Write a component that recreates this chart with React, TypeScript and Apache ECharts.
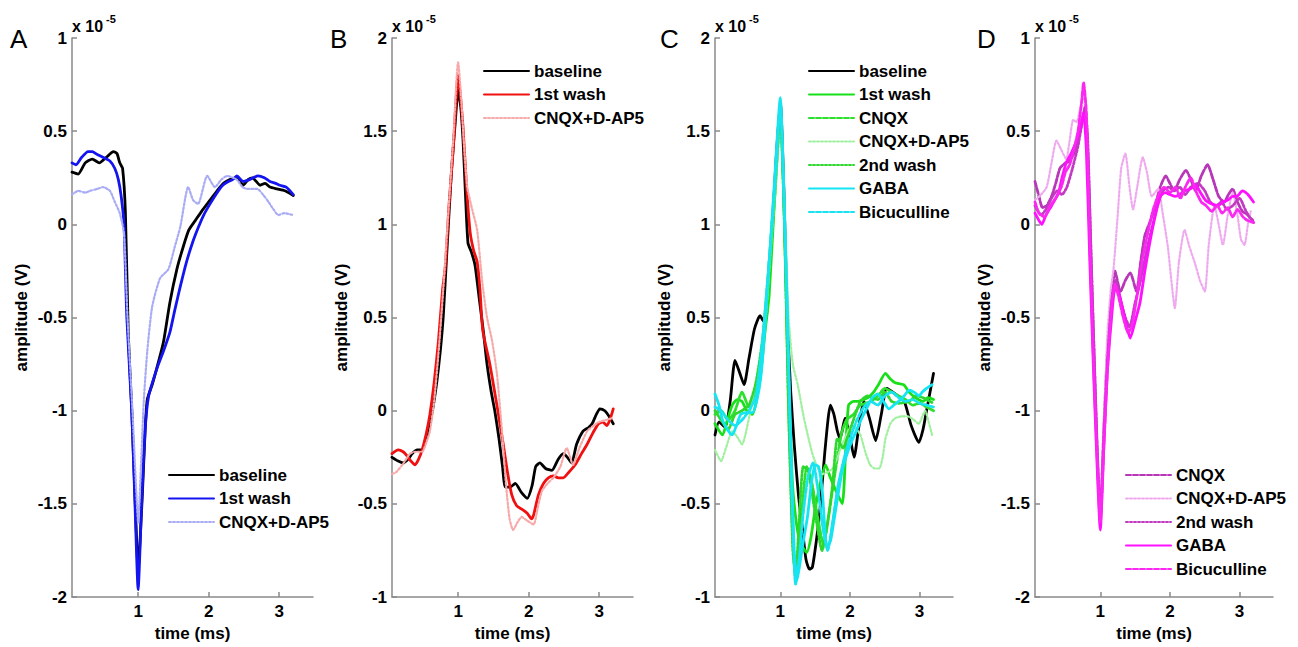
import React, { useEffect, useRef } from 'react';
import * as echarts from 'echarts';

// ---------- DATA (time in ms, amplitude in units of 1e-5 V) ----------
const xTicks = [1, 2, 3];

const A_baseline = [[0.0625,0.28],[0.15,0.27],[0.25,0.33],[0.35,0.35],[0.45,0.33],[0.55,0.36],[0.65,0.39],[0.7,0.38],[0.74,0.33],[0.78,0.3],[0.82,0.06],[0.86,-0.58],[0.91,-1.0],[0.96,-1.5],[1.0,-1.85],[1.06,-1.45],[1.1,-1.1],[1.13,-0.94],[1.2,-0.86],[1.28,-0.75],[1.36,-0.63],[1.45,-0.42],[1.55,-0.24],[1.64,-0.12],[1.72,-0.03],[1.81,0.02],[1.9,0.07],[2.02,0.13],[2.12,0.18],[2.21,0.22],[2.3,0.24],[2.4,0.25],[2.49,0.21],[2.56,0.24],[2.62,0.25],[2.73,0.21],[2.8,0.22],[2.87,0.2],[2.97,0.19],[3.08,0.18],[3.2,0.155]];
const A_wash1 = [[0.0625,0.33],[0.12,0.32],[0.2,0.36],[0.29,0.39],[0.35,0.39],[0.42,0.375],[0.5,0.36],[0.6,0.34],[0.67,0.3],[0.72,0.24],[0.76,0.15],[0.8,0.0],[0.84,-0.5],[0.91,-1.0],[0.96,-1.55],[1.0,-1.96],[1.05,-1.5],[1.1,-1.1],[1.15,-0.92],[1.27,-0.77],[1.36,-0.68],[1.45,-0.58],[1.52,-0.46],[1.6,-0.33],[1.68,-0.21],[1.77,-0.1],[1.85,-0.02],[1.93,0.05],[2.02,0.11],[2.12,0.17],[2.2,0.21],[2.28,0.23],[2.34,0.24],[2.4,0.26],[2.49,0.23],[2.58,0.24],[2.7,0.26],[2.79,0.25],[2.87,0.23],[2.95,0.22],[3.01,0.21],[3.1,0.2],[3.2,0.16]];
const A_cnqxDap5 = [[0.0625,0.16],[0.15,0.18],[0.25,0.17],[0.32,0.18],[0.42,0.19],[0.5,0.2],[0.6,0.18],[0.67,0.12],[0.74,0.06],[0.8,-0.05],[0.85,-0.5],[0.92,-1.0],[0.97,-1.4],[1.0,-1.6],[1.04,-1.3],[1.08,-0.95],[1.13,-0.68],[1.2,-0.44],[1.31,-0.29],[1.43,-0.24],[1.52,-0.12],[1.6,-0.01],[1.71,0.2],[1.78,0.13],[1.85,0.11],[1.98,0.26],[2.09,0.2],[2.18,0.24],[2.26,0.26],[2.4,0.24],[2.48,0.2],[2.55,0.19],[2.69,0.19],[2.77,0.16],[2.85,0.12],[2.92,0.08],[2.99,0.05],[3.07,0.06],[3.2,0.05]];

const B_baseline = [[0.0625,-0.25],[0.15,-0.27],[0.22,-0.28],[0.29,-0.26],[0.35,-0.23],[0.42,-0.21],[0.49,-0.21],[0.55,-0.15],[0.6,-0.07],[0.65,0.03],[0.7,0.16],[0.75,0.33],[0.79,0.51],[0.84,0.85],[0.91,1.31],[0.96,1.55],[1.0,1.72],[1.04,1.62],[1.07,1.45],[1.1,1.2],[1.14,0.9],[1.19,0.85],[1.24,0.78],[1.3,0.6],[1.36,0.42],[1.41,0.25],[1.47,0.1],[1.52,0.0],[1.58,-0.15],[1.63,-0.3],[1.67,-0.41],[1.74,-0.41],[1.81,-0.39],[1.9,-0.44],[1.98,-0.47],[2.05,-0.4],[2.1,-0.3],[2.16,-0.28],[2.24,-0.31],[2.33,-0.32],[2.42,-0.26],[2.49,-0.23],[2.55,-0.25],[2.61,-0.28],[2.68,-0.18],[2.77,-0.11],[2.85,-0.09],[2.9,-0.07],[2.96,-0.02],[3.01,0.01],[3.08,0.0],[3.14,-0.03],[3.2,-0.07]];
const B_wash1 = [[0.0625,-0.23],[0.15,-0.21],[0.22,-0.22],[0.27,-0.24],[0.33,-0.27],[0.39,-0.29],[0.44,-0.26],[0.49,-0.21],[0.55,-0.12],[0.6,-0.02],[0.66,0.15],[0.72,0.37],[0.78,0.65],[0.82,0.78],[0.87,1.1],[0.93,1.4],[1.0,1.8],[1.03,1.7],[1.07,1.52],[1.12,1.2],[1.17,0.96],[1.22,0.86],[1.27,0.8],[1.31,0.65],[1.35,0.43],[1.45,0.25],[1.55,0.03],[1.64,-0.18],[1.7,-0.33],[1.76,-0.45],[1.83,-0.51],[1.91,-0.53],[1.98,-0.55],[2.04,-0.58],[2.07,-0.56],[2.14,-0.45],[2.21,-0.39],[2.28,-0.36],[2.35,-0.35],[2.42,-0.36],[2.49,-0.36],[2.57,-0.33],[2.66,-0.29],[2.75,-0.23],[2.83,-0.18],[2.91,-0.12],[2.99,-0.07],[3.05,-0.06],[3.11,-0.08],[3.16,-0.04],[3.2,0.01]];
const B_cnqxDap5 = [[0.0625,-0.34],[0.12,-0.33],[0.21,-0.29],[0.32,-0.23],[0.4,-0.22],[0.49,-0.22],[0.55,-0.17],[0.6,-0.11],[0.66,0.05],[0.72,0.3],[0.78,0.6],[0.85,1.0],[0.93,1.45],[1.0,1.87],[1.04,1.7],[1.08,1.45],[1.13,1.2],[1.2,1.08],[1.27,0.97],[1.34,0.7],[1.41,0.5],[1.48,0.38],[1.55,0.2],[1.62,-0.1],[1.68,-0.4],[1.73,-0.58],[1.78,-0.64],[1.84,-0.6],[1.9,-0.57],[1.98,-0.59],[2.07,-0.61],[2.13,-0.52],[2.19,-0.43],[2.27,-0.39],[2.35,-0.36],[2.45,-0.3],[2.54,-0.2],[2.63,-0.29],[2.72,-0.2],[2.83,-0.11],[2.92,-0.08],[3.0,-0.06],[3.1,-0.05],[3.18,-0.04]];

const C_baseline = [[0.0625,-0.13],[0.12,-0.06],[0.21,-0.09],[0.28,0.05],[0.35,0.27],[0.42,0.2],[0.48,0.14],[0.55,0.28],[0.63,0.44],[0.71,0.51],[0.76,0.48],[0.8,0.5],[0.88,0.95],[0.94,1.35],[1.0,1.66],[1.05,1.2],[1.1,0.5],[1.15,0.1],[1.2,-0.18],[1.26,-0.45],[1.32,-0.64],[1.37,-0.8],[1.42,-0.85],[1.46,-0.84],[1.51,-0.72],[1.57,-0.53],[1.64,-0.22],[1.72,0.03],[1.77,-0.02],[1.82,-0.11],[1.86,-0.15],[1.93,-0.04],[2.0,-0.14],[2.06,-0.25],[2.13,-0.08],[2.2,0.05],[2.28,-0.04],[2.37,-0.16],[2.45,-0.02],[2.53,0.12],[2.65,0.09],[2.78,0.05],[2.88,-0.08],[2.99,-0.17],[3.05,-0.1],[3.1,0.0],[3.2,0.2]];
const C_wash1 = [[0.0625,-0.07],[0.17,-0.13],[0.24,-0.05],[0.31,0.03],[0.38,0.06],[0.45,0.05],[0.52,0.0],[0.6,-0.02],[0.66,0.06],[0.72,0.2],[0.78,0.42],[0.84,0.62],[0.92,1.15],[1.0,1.6],[1.05,1.15],[1.1,0.4],[1.17,-0.36],[1.23,-0.6],[1.29,-0.71],[1.38,-0.76],[1.44,-0.68],[1.5,-0.53],[1.58,-0.38],[1.65,-0.29],[1.72,-0.36],[1.8,-0.43],[1.89,-0.5],[1.94,-0.2],[1.98,0.03],[2.05,0.05],[2.12,0.05],[2.2,0.06],[2.26,0.07],[2.34,0.1],[2.41,0.14],[2.51,0.2],[2.58,0.17],[2.65,0.15],[2.77,0.14],[2.85,0.1],[2.94,0.07],[3.05,0.05],[3.12,0.07],[3.2,0.06]];
const C_cnqx = [[0.0625,-0.02],[0.15,0.0],[0.25,-0.05],[0.35,0.0],[0.45,0.1],[0.55,0.02],[0.65,0.1],[0.75,0.35],[0.85,0.8],[0.93,1.2],[1.0,1.6],[1.06,1.0],[1.12,0.0],[1.18,-0.7],[1.22,-0.9],[1.27,-0.75],[1.33,-0.45],[1.38,-0.3],[1.45,-0.38],[1.55,-0.6],[1.62,-0.72],[1.7,-0.55],[1.8,-0.3],[1.88,-0.12],[1.95,-0.05],[2.05,-0.02],[2.15,0.03],[2.3,0.05],[2.4,0.08],[2.5,0.12],[2.6,0.1],[2.7,0.08],[2.8,0.06],[2.9,0.03],[3.0,0.04],[3.1,0.02],[3.2,0.0]];
const C_cnqxDap5 = [[0.0625,-0.21],[0.15,-0.27],[0.22,-0.2],[0.31,-0.11],[0.38,-0.14],[0.45,-0.18],[0.55,-0.04],[0.62,0.1],[0.7,0.25],[0.78,0.45],[0.86,0.85],[0.93,1.2],[1.0,1.55],[1.06,1.1],[1.12,0.5],[1.18,0.25],[1.25,0.14],[1.34,-0.04],[1.46,-0.23],[1.53,-0.3],[1.6,-0.34],[1.68,-0.33],[1.75,-0.31],[1.82,-0.25],[1.89,-0.18],[1.96,-0.12],[2.02,-0.08],[2.08,-0.09],[2.15,-0.13],[2.22,-0.22],[2.29,-0.29],[2.36,-0.31],[2.42,-0.31],[2.47,-0.25],[2.51,-0.15],[2.58,-0.07],[2.65,-0.04],[2.75,-0.03],[2.83,-0.03],[2.92,-0.05],[2.99,-0.07],[3.04,-0.03],[3.08,0.0],[3.13,-0.06],[3.18,-0.13]];
const C_wash2 = [[0.0625,0.0],[0.15,-0.05],[0.25,-0.1],[0.35,-0.02],[0.45,0.0],[0.55,0.03],[0.65,0.15],[0.75,0.4],[0.85,0.85],[0.93,1.25],[1.0,1.6],[1.06,1.0],[1.12,0.0],[1.18,-0.75],[1.22,-0.88],[1.27,-0.6],[1.33,-0.3],[1.4,-0.32],[1.5,-0.55],[1.6,-0.75],[1.68,-0.6],[1.75,-0.4],[1.82,-0.15],[1.9,-0.2],[1.96,-0.15],[2.05,-0.05],[2.15,0.05],[2.25,0.08],[2.4,0.06],[2.5,0.1],[2.6,0.05],[2.7,0.04],[2.85,0.05],[2.95,0.08],[3.05,0.07],[3.2,0.04]];
const C_gaba = [[0.0625,0.09],[0.12,0.03],[0.17,-0.05],[0.24,-0.1],[0.31,-0.13],[0.37,-0.08],[0.43,-0.02],[0.5,-0.01],[0.6,-0.01],[0.66,0.05],[0.72,0.18],[0.78,0.45],[0.85,0.85],[0.92,1.25],[1.0,1.68],[1.05,1.2],[1.11,0.42],[1.16,-0.3],[1.2,-0.75],[1.24,-0.91],[1.29,-0.8],[1.34,-0.68],[1.39,-0.57],[1.45,-0.38],[1.5,-0.29],[1.55,-0.3],[1.6,-0.42],[1.67,-0.73],[1.72,-0.7],[1.77,-0.59],[1.83,-0.45],[1.89,-0.32],[1.96,-0.23],[2.03,-0.16],[2.1,-0.1],[2.17,-0.04],[2.25,0.02],[2.32,0.07],[2.4,0.09],[2.48,0.05],[2.56,0.01],[2.63,0.03],[2.7,0.05],[2.78,0.08],[2.85,0.11],[2.92,0.1],[2.99,0.08],[3.04,0.1],[3.1,0.12],[3.18,0.14]];
const C_bicuculline = [[0.0625,0.02],[0.15,0.0],[0.25,-0.05],[0.35,-0.08],[0.45,-0.05],[0.55,0.0],[0.65,0.08],[0.75,0.4],[0.85,0.85],[0.93,1.25],[1.0,1.65],[1.06,1.05],[1.12,0.2],[1.17,-0.5],[1.22,-0.93],[1.27,-0.8],[1.33,-0.55],[1.4,-0.35],[1.47,-0.28],[1.55,-0.45],[1.62,-0.65],[1.68,-0.75],[1.75,-0.6],[1.83,-0.4],[1.92,-0.25],[2.0,-0.15],[2.1,-0.05],[2.2,0.02],[2.3,0.05],[2.4,0.03],[2.5,0.08],[2.6,0.1],[2.7,0.07],[2.8,0.05],[2.9,0.06],[3.0,0.04],[3.1,0.03],[3.2,0.02]];

const D_cnqx = [[0.0625,0.23],[0.12,0.15],[0.17,0.09],[0.23,0.1],[0.3,0.15],[0.36,0.22],[0.42,0.3],[0.5,0.33],[0.56,0.34],[0.62,0.38],[0.68,0.45],[0.74,0.55],[0.78,0.62],[0.82,0.4],[0.87,-0.2],[0.92,-0.8],[0.96,-1.25],[1.0,-1.55],[1.05,-1.1],[1.1,-0.7],[1.16,-0.4],[1.21,-0.25],[1.29,-0.36],[1.36,-0.3],[1.43,-0.26],[1.52,-0.36],[1.58,-0.2],[1.64,-0.06],[1.72,0.02],[1.79,0.1],[1.86,0.2],[1.94,0.26],[2.0,0.22],[2.06,0.18],[2.14,0.24],[2.23,0.29],[2.3,0.24],[2.37,0.18],[2.45,0.26],[2.54,0.32],[2.62,0.24],[2.7,0.15],[2.78,0.12],[2.84,0.16],[2.9,0.19],[2.97,0.12],[3.04,0.07],[3.12,0.05],[3.2,0.01]];
const D_cnqxDap5 = [[0.0625,0.13],[0.15,0.16],[0.23,0.2],[0.3,0.33],[0.37,0.45],[0.44,0.4],[0.51,0.35],[0.56,0.45],[0.61,0.56],[0.66,0.55],[0.71,0.62],[0.76,0.7],[0.8,0.5],[0.85,-0.15],[0.9,-0.75],[0.95,-1.2],[1.0,-1.55],[1.05,-1.1],[1.1,-0.6],[1.15,-0.35],[1.19,-0.24],[1.25,0.05],[1.3,0.3],[1.36,0.38],[1.42,0.2],[1.47,0.08],[1.53,0.2],[1.61,0.36],[1.67,0.28],[1.74,0.15],[1.83,0.19],[1.9,0.05],[1.97,-0.12],[2.02,-0.3],[2.07,-0.45],[2.13,-0.2],[2.21,-0.03],[2.28,-0.12],[2.36,-0.21],[2.43,-0.3],[2.5,-0.36],[2.56,-0.1],[2.64,0.1],[2.7,0.0],[2.76,-0.11],[2.83,0.05],[2.9,0.17],[2.97,0.05],[3.02,-0.08],[3.07,-0.11],[3.12,0.0],[3.16,0.07]];
const D_wash2 = [[0.0625,0.1],[0.15,0.05],[0.22,0.08],[0.3,0.14],[0.38,0.18],[0.45,0.16],[0.52,0.2],[0.6,0.3],[0.68,0.42],[0.74,0.55],[0.78,0.63],[0.82,0.45],[0.87,-0.2],[0.92,-0.8],[0.96,-1.25],[1.0,-1.58],[1.05,-1.15],[1.1,-0.75],[1.16,-0.42],[1.22,-0.3],[1.3,-0.42],[1.36,-0.5],[1.42,-0.55],[1.5,-0.42],[1.58,-0.3],[1.66,-0.15],[1.74,-0.02],[1.82,0.1],[1.9,0.18],[1.98,0.2],[2.06,0.18],[2.14,0.2],[2.22,0.16],[2.3,0.2],[2.4,0.22],[2.5,0.18],[2.58,0.12],[2.66,0.1],[2.74,0.12],[2.82,0.08],[2.9,0.1],[3.0,0.14],[3.08,0.08],[3.14,0.04],[3.2,0.02]];
const D_gaba = [[0.0625,0.06],[0.12,0.02],[0.16,0.0],[0.22,0.05],[0.3,0.1],[0.4,0.17],[0.45,0.25],[0.51,0.33],[0.58,0.38],[0.66,0.45],[0.72,0.53],[0.76,0.6],[0.8,0.4],[0.85,-0.2],[0.9,-0.75],[0.95,-1.25],[1.0,-1.64],[1.05,-1.2],[1.1,-0.8],[1.16,-0.51],[1.21,-0.35],[1.26,-0.36],[1.32,-0.45],[1.38,-0.55],[1.43,-0.61],[1.5,-0.52],[1.57,-0.42],[1.64,-0.25],[1.71,-0.1],[1.78,0.03],[1.86,0.15],[1.93,0.17],[2.0,0.16],[2.08,0.15],[2.14,0.16],[2.21,0.18],[2.29,0.19],[2.37,0.21],[2.44,0.17],[2.51,0.13],[2.6,0.11],[2.69,0.1],[2.76,0.12],[2.83,0.13],[2.9,0.15],[2.96,0.15],[3.04,0.18],[3.12,0.16],[3.2,0.12]];
const D_bicuculline = [[0.0625,0.12],[0.12,0.06],[0.2,0.04],[0.28,0.1],[0.36,0.14],[0.44,0.2],[0.5,0.28],[0.56,0.32],[0.62,0.4],[0.68,0.5],[0.73,0.65],[0.76,0.76],[0.8,0.6],[0.85,-0.1],[0.9,-0.7],[0.95,-1.2],[1.0,-1.6],[1.05,-1.2],[1.1,-0.8],[1.16,-0.45],[1.21,-0.32],[1.27,-0.4],[1.33,-0.5],[1.4,-0.58],[1.45,-0.55],[1.52,-0.4],[1.6,-0.2],[1.68,-0.05],[1.76,0.08],[1.85,0.17],[1.92,0.2],[2.0,0.17],[2.08,0.2],[2.15,0.14],[2.22,0.2],[2.3,0.25],[2.37,0.18],[2.45,0.12],[2.52,0.1],[2.6,0.07],[2.68,0.1],[2.75,0.06],[2.83,0.09],[2.9,0.04],[2.97,0.08],[3.05,0.04],[3.12,0.02],[3.2,0.01]];

const panelLetters = ['A', 'B', 'C', 'D'];
const yRanges = [[-2, 1], [-1, 2], [-1, 2], [-2, 1]];

// ---------- LAYOUT / STYLE ----------
const FONT = '"Liberation Sans", Arial, Helvetica, sans-serif';
const grids = [
  { left: 72, top: 38, width: 241, height: 563 },
  { left: 392, top: 38, width: 241, height: 563 },
  { left: 715, top: 38, width: 238, height: 563 },
  { left: 1035, top: 38, width: 238, height: 563 },
];
const legendPos = [
  { left: 168, top: 466.5 },
  { left: 483, top: 62.5 },
  { left: 808, top: 62.5 },
  { left: 1125, top: 466.5 },
];

const SOLID = 'solid';
const DOT = [2, 2];
const DASH = [5, 2];

type S = { panel: number; label: string; data: number[][]; color: string; width: number; dash: any };
const seriesDefs: S[] = [
  { panel: 0, label: 'baseline', data: A_baseline, color: '#000000', width: 2.8, dash: SOLID },
  { panel: 0, label: '1st wash', data: A_wash1, color: '#1414f0', width: 2.8, dash: SOLID },
  { panel: 0, label: 'CNQX+D-AP5', data: A_cnqxDap5, color: '#a9acf5', width: 2.2, dash: DOT },
  { panel: 1, label: 'baseline', data: B_baseline, color: '#000000', width: 2.8, dash: SOLID },
  { panel: 1, label: '1st wash', data: B_wash1, color: '#f01010', width: 2.8, dash: SOLID },
  { panel: 1, label: 'CNQX+D-AP5', data: B_cnqxDap5, color: '#f7a9a9', width: 2.2, dash: DOT },
  { panel: 2, label: 'baseline', data: C_baseline, color: '#000000', width: 2.8, dash: SOLID },
  { panel: 2, label: '1st wash', data: C_wash1, color: '#18e018', width: 2.8, dash: SOLID },
  { panel: 2, label: 'CNQX', data: C_cnqx, color: '#2ee02e', width: 2.8, dash: DASH },
  { panel: 2, label: 'CNQX+D-AP5', data: C_cnqxDap5, color: '#9ff09f', width: 2.2, dash: DOT },
  { panel: 2, label: '2nd wash', data: C_wash2, color: '#2ed62e', width: 2.8, dash: DOT },
  { panel: 2, label: 'GABA', data: C_gaba, color: '#12e6f2', width: 2.8, dash: SOLID },
  { panel: 2, label: 'Bicuculline', data: C_bicuculline, color: '#1ae2f0', width: 2.8, dash: DASH },
  { panel: 3, label: 'CNQX', data: D_cnqx, color: '#b836b8', width: 2.8, dash: DASH },
  { panel: 3, label: 'CNQX+D-AP5', data: D_cnqxDap5, color: '#efaaef', width: 2.2, dash: DOT },
  { panel: 3, label: '2nd wash', data: D_wash2, color: '#c23ac2', width: 2.8, dash: DOT },
  { panel: 3, label: 'GABA', data: D_gaba, color: '#ff10ff', width: 2.8, dash: SOLID },
  { panel: 3, label: 'Bicuculline', data: D_bicuculline, color: '#fa28f0', width: 2.8, dash: DASH },
];

const keyOf = (d: S) => panelLetters[d.panel] + '|' + d.label;

export default function App() {
  const ref = useRef<HTMLDivElement>(null);
  useEffect(() => {
    if (!ref.current) return;
    const chart = echarts.init(ref.current, undefined, { renderer: 'svg' });
    const axisColor = '#8a8a8a';
    const tickFont = { fontFamily: FONT, fontSize: 17, fontWeight: 'bold' as const, color: '#000' };

    const xAxis = grids.map((_, i) => ({
      type: 'value',
      gridIndex: i,
      min: 0.0625,
      max: 3.48,
      name: 'time (ms)',
      nameLocation: 'middle',
      nameGap: 25,
      nameTextStyle: tickFont,
      axisLine: { show: true, onZero: false, lineStyle: { color: axisColor, width: 1.5 } },
      axisTick: { show: true, inside: true, length: 5, customValues: xTicks, lineStyle: { color: axisColor, width: 1.5 } },
      axisLabel: { show: true, customValues: xTicks, margin: 6, ...tickFont },
      splitLine: { show: false },
    }));
    const yAxis = grids.map((_, i) => ({
      type: 'value',
      gridIndex: i,
      min: yRanges[i][0],
      max: yRanges[i][1],
      interval: 0.5,
      name: 'amplitude (V)',
      nameLocation: 'middle',
      nameGap: 42,
      nameRotate: 90,
      nameTextStyle: tickFont,
      axisLine: { show: true, onZero: false, lineStyle: { color: axisColor, width: 1.5 } },
      axisTick: { show: true, inside: true, length: 5, lineStyle: { color: axisColor, width: 1.5 } },
      axisLabel: { show: true, margin: 5, ...tickFont },
      splitLine: { show: false },
    }));

    const series = seriesDefs.map((d) => ({
      type: 'line',
      name: keyOf(d),
      data: d.data,
      xAxisIndex: d.panel,
      yAxisIndex: d.panel,
      symbol: 'none',
      showSymbol: false,
      silent: true,
      smooth: 0.2,
      lineStyle: { color: d.color, width: d.width, type: d.dash, cap: 'round', join: 'round' },
      itemStyle: { color: d.color },
    }));

    const legend = grids.map((_, i) => ({
      orient: 'vertical',
      left: legendPos[i].left,
      top: legendPos[i].top,
      padding: 0,
      itemWidth: 45,
      itemHeight: 14,
      itemGap: 6.5,
      selectedMode: false,
      data: seriesDefs.filter((d) => d.panel === i).map(keyOf),
      formatter: (n: string) => n.split('|')[1],
      itemStyle: { opacity: 0, borderWidth: 0, color: 'rgba(0,0,0,0)' },
      textStyle: { ...tickFont, lineHeight: 17 },
    }));

    const graphic: any[] = [];
    grids.forEach((g, i) => {
      const letterX = [10, 330, 660, 977][i];
      graphic.push({
        type: 'text', left: letterX, top: 26,
        style: { text: panelLetters[i], font: `26px ${FONT}`, fill: '#000' },
      });
      graphic.push({
        type: 'text', x: g.left, y: 26,
        style: { text: 'x 10', font: `bold 16px ${FONT}`, fill: '#000', textVerticalAlign: 'middle' },
      });
      graphic.push({
        type: 'text', x: g.left + 34, y: 19,
        style: { text: '-5', font: `bold 11px ${FONT}`, fill: '#000', textVerticalAlign: 'middle' },
      });
    });

    chart.setOption({
      animation: false,
      backgroundColor: '#ffffff',
      grid: grids,
      xAxis,
      yAxis,
      legend,
      series,
      graphic,
    });
    return () => chart.dispose();
  }, []);
  return (
    <div
      ref={ref}
      style={{ position: 'absolute', left: 0, top: 0, width: 1298, height: 647, background: '#fff' }}
    />
  );
}
